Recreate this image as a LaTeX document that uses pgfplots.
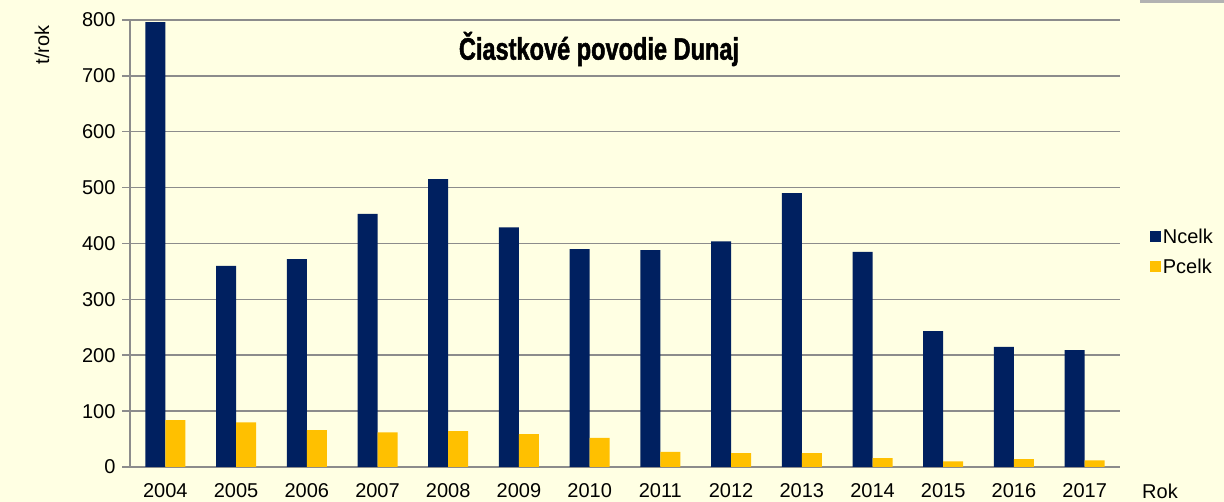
\documentclass[border=0pt]{standalone}
\usepackage{fontspec}
\setmainfont{Liberation Sans}
\newfontfamily\titlefont[FakeStretch=0.76, FakeBold=1.5]{Liberation Sans Bold}
\usepackage{pgfplots}
\pgfplotsset{compat=1.18}
\definecolor{bg}{HTML}{FFFFE3}
\definecolor{ncelk}{HTML}{002060}
\definecolor{pcelk}{HTML}{FFC000}
\definecolor{gridc}{HTML}{8C8C8C}

\pgfplotstableread{
x  N    P
0  796  84
1  360  80
2  372  66
3  453  62
4  515  64
5  429  59
6  390  52
7  388  27
8  404  25
9  490  25
10 385  16
11 243  10
12 215  14
13 209  12
}\data

\begin{document}
\begin{tikzpicture}[x=1pt,y=1pt]
\fill[bg] (0,0) rectangle (1224,502);
\fill[black!30] (1140,499) rectangle (1224,502);
\begin{axis}[
    at={(130pt,35pt)}, anchor=south west,
    width=990pt, height=447pt, scale only axis,
    ybar=0pt, bar width=20pt,
    xmin=-0.5, xmax=13.5, ymin=0, ymax=800,
    ytick={0,100,...,800},
    xtick={0,...,13},
    xticklabels={2004,2005,2006,2007,2008,2009,2010,2011,2012,2013,2014,2015,2016,2017},
    minor xtick={-0.5,0.5,...,13.5},
    axis lines=left,
    axis line style={gridc, line width=1.5pt, -},
    ymajorgrids, grid style={gridc, line width=1.5pt},
    tick style={gridc, line width=1.5pt},
    tick align=outside,
    x tick style={draw=none},
    minor x tick style={gridc, line width=1.5pt},
    minor tick length=7pt, major tick length=8pt,
    /pgf/number format/assume math mode=true,
    ticklabel style={font=\fontsize{20}{24}\selectfont},
    xticklabel style={yshift=-5pt},
    yticklabel style={xshift=-3pt},
    legend style={at={(1.03,0.48)}, anchor=west, draw=none, fill=none,
        font=\fontsize{20}{24}\selectfont, row sep=10pt, inner sep=0pt},
    legend cell align=left,
    legend image code/.code={\fill[#1] (0pt,-5pt) rectangle (11pt,6pt);},
]
\addplot[fill=ncelk, draw=none] table[x=x,y=N] {\data};
\addlegendentry{Ncelk}
\addplot[fill=pcelk, draw=none] table[x=x,y=P] {\data};
\addlegendentry{Pcelk}
\end{axis}
\node[font=\titlefont\fontsize{31}{34}\selectfont] at (599,453) {Čiastkové povodie Dunaj};
\node[rotate=90, font=\fontsize{20}{24}\selectfont] at (42,457) {t/rok};
\node[font=\fontsize{20}{24}\selectfont] at (1160,11) {Rok};
\end{tikzpicture}
\end{document}
